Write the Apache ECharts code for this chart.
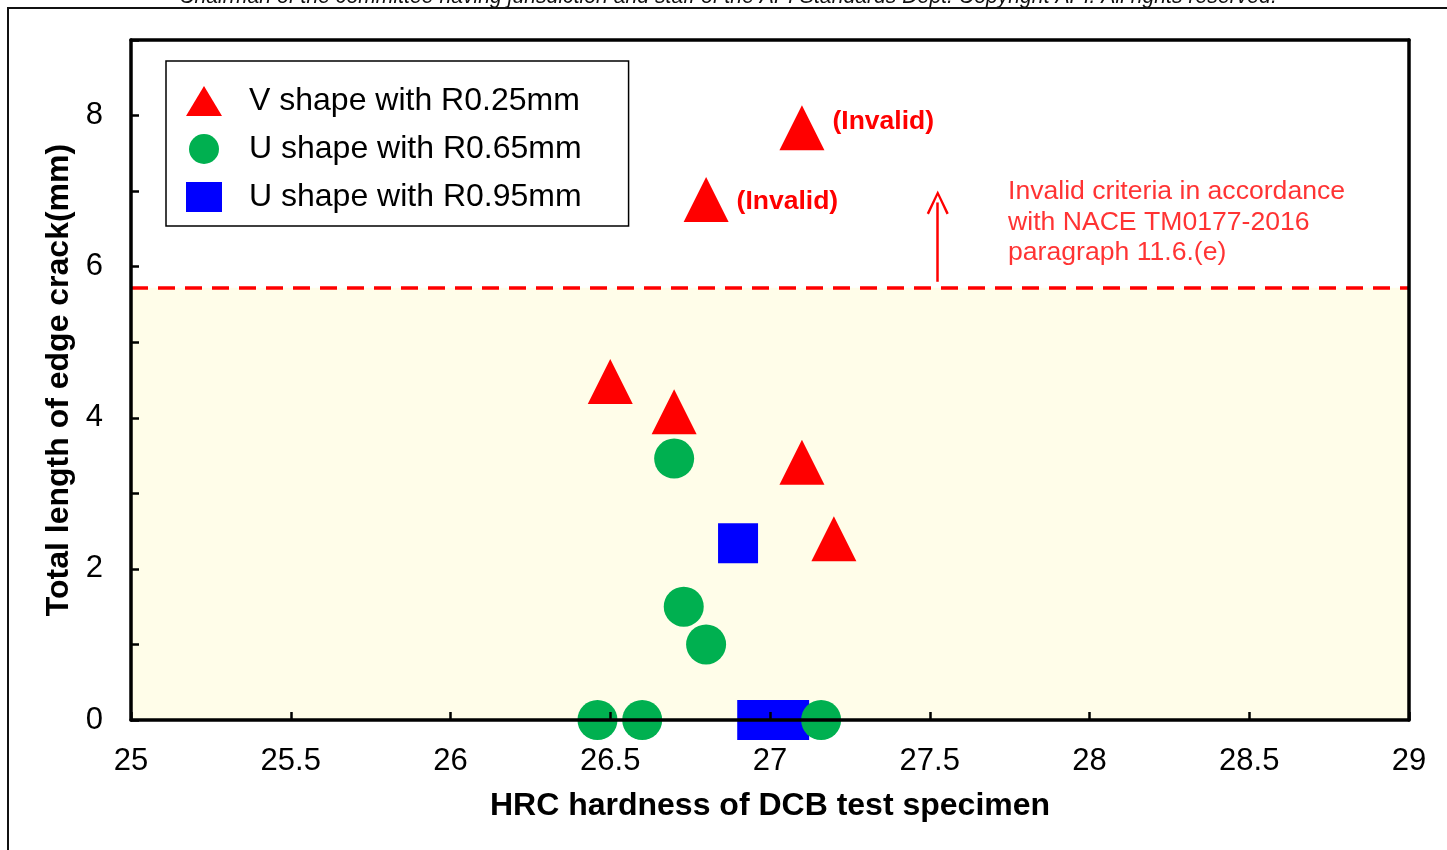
<!DOCTYPE html>
<html>
<head>
<meta charset="utf-8">
<title>Edge crack length vs HRC hardness</title>
<script src="https://cdn.jsdelivr.net/npm/echarts@6/dist/echarts.min.js"></script>
<style>
  html, body { margin: 0; padding: 0; background: #fff; }
  #chart { width: 1447px; height: 850px; }
</style>
</head>
<body>
<div id="chart"></div>
<script>
// HRC hardness (x) and total edge crack length in mm (y) per notch geometry
const seriesNames = ['V shape with R0.25mm', 'U shape with R0.65mm', 'U shape with R0.95mm'];

const vShapeHRC   = [27.1, 26.8, 26.5, 26.7, 27.1, 27.2];
const vShapeCrack = [7.84, 6.89, 4.48, 4.08, 3.41, 2.40];

const u065HRC   = [26.7, 26.73, 26.8, 26.46, 26.6, 27.16];
const u065Crack = [3.46, 1.50, 1.00, 0, 0, 0];

const u095HRC   = [26.9, 26.96, 27.0, 27.06];
const u095Crack = [2.34, 0, 0, 0];

// specimens rejected under the edge-crack criterion (index into vShape arrays)
const invalidIdx = [0, 1];
const invalidText = '(Invalid)';

// acceptance limit for edge cracks (mm) and the arrow pointing into the invalid zone
const crackLimit = 5.72;
const arrowHRC = 27.525;
const arrowFrom = 5.8;
const arrowTo = 6.85;

// note placed beside the arrow
const criteriaNote = ['Invalid criteria in accordance', 'with NACE TM0177-2016', 'paragraph 11.6.(e)'];
const criteriaAt = [27.745, 7.19];

// axis ranges and ticks
const xMin = 25, xMax = 29, xStep = 0.5;
const yMin = 0, yMax = 9, yStep = 1;

const footerText = 'Chairman of the committee having jurisdiction and staff of the API Standards Dept. Copyright API. All rights reserved.';

const FONT = '"Liberation Sans", Arial, sans-serif';
const RED = '#FF0000', GREEN = '#00B050', BLUE = '#0000FF';

function pairs(xs, ys) { return xs.map((x, i) => [x, ys[i]]); }

const vData = pairs(vShapeHRC, vShapeCrack).map((p, i) => {
  const item = { value: p };
  if (invalidIdx.includes(i)) {
    item.label = {
      show: true,
      position: 'right',
      distance: 8,
      offset: [0, i === 0 ? -6 : 2],
      formatter: invalidText,
      color: RED,
      fontFamily: FONT,
      fontWeight: 'bold',
      fontSize: 26.5
    };
  }
  return item;
});

// frame-only axis used for the top and right border of the plot
const frameAxis = (position, min, max) => ({
  type: 'value', position, min, max,
  axisLine: { show: true, onZero: false, lineStyle: { color: '#000', width: 3.5 } },
  axisTick: { show: false },
  axisLabel: { show: false },
  splitLine: { show: false },
  z: 10
});

const chart = echarts.init(document.getElementById('chart'), null, { renderer: 'canvas' });

chart.setOption({
  animation: false,
  backgroundColor: '#fff',
  textStyle: { fontFamily: FONT },
  graphic: [
    {
      type: 'rect',
      shape: { x: 8, y: 8, width: 1600, height: 1000 },
      style: { fill: 'none', stroke: '#111', lineWidth: 2 },
      z: 0
    },
    {
      type: 'text',
      x: 728, y: 8,
      style: {
        text: footerText,
        font: 'italic 21.2px ' + FONT,
        fill: '#111',
        textAlign: 'center',
        textVerticalAlign: 'bottom'
      }
    }
  ],
  grid: {
    left: 131, right: 38, top: 40, bottom: 130,
    show: false
  },
  legend: {
    orient: 'vertical',
    left: 166, top: 61,
    data: seriesNames,
    itemWidth: 36, itemHeight: 30,
    itemGap: 16,
    padding: [24, 47, 13, 20],
    borderColor: '#000', borderWidth: 1.5,
    backgroundColor: '#fff',
    textStyle: { fontSize: 32, color: '#000', fontFamily: FONT, padding: [0, 0, 0, 22] },
    selectedMode: false
  },
  xAxis: [
    {
      type: 'value',
      min: xMin, max: xMax, interval: xStep,
      name: 'HRC hardness of DCB test specimen',
      nameLocation: 'middle',
      nameGap: 70,
      nameTextStyle: { fontSize: 32, fontWeight: 'bold', color: '#000', fontFamily: FONT },
      axisLine: { show: true, lineStyle: { color: '#000', width: 3.5 } },
      axisTick: { show: true, inside: true, length: 8, lineStyle: { color: '#000', width: 2.5 } },
      axisLabel: { fontSize: 31, color: '#000', margin: 26, fontFamily: FONT },
      splitLine: { show: false },
      z: 10
    },
    frameAxis('top', xMin, xMax)
  ],
  yAxis: [
    {
      type: 'value',
      min: yMin, max: yMax, interval: yStep,
      name: 'Total length of edge crack(mm)',
      nameLocation: 'middle',
      nameGap: 54,
      nameRotate: 90,
      nameTextStyle: { fontSize: 32, fontWeight: 'bold', color: '#000', fontFamily: FONT },
      axisLine: { show: true, lineStyle: { color: '#000', width: 3.5 } },
      axisTick: { show: true, inside: true, length: 8, lineStyle: { color: '#000', width: 2.5 } },
      axisLabel: {
        fontSize: 31, color: '#000', margin: 28, fontFamily: FONT,
        padding: [11, 0, 0, 0],
        formatter: v => (v % 2 === 0 && v < yMax) ? String(v) : ''
      },
      splitLine: { show: false },
      z: 10
    },
    frameAxis('right', yMin, yMax)
  ],
  series: [
    {
      // shaded valid zone and the dashed limit line
      name: 'limit',
      type: 'scatter',
      data: [],
      z: 1,
      silent: true,
      markArea: {
        silent: true,
        itemStyle: { color: '#FFFDE9' },
        data: [[{ coord: [xMin, yMin] }, { coord: [xMax, crackLimit] }]]
      },
      markLine: {
        silent: true,
        symbol: ['none', 'none'],
        label: { show: false },
        lineStyle: { color: RED, width: 3.5, type: [17, 10] },
        data: [{ yAxis: crackLimit }]
      }
    },
    {
      name: 'arrow',
      type: 'scatter',
      data: [],
      z: 3,
      silent: true,
      markLine: {
        silent: true,
        symbol: ['none', 'path://M10,0 L20,20 L18,21 L10,4.5 L2,21 L0,20 Z'],
        symbolSize: [22, 24],
        label: { show: false },
        lineStyle: { color: RED, width: 2.5, type: 'solid' },
        data: [[{ coord: [arrowHRC, arrowFrom] }, { coord: [arrowHRC, arrowTo] }]]
      }
    },
    {
      name: 'note',
      type: 'scatter',
      data: [criteriaAt],
      symbolSize: 0,
      silent: true,
      z: 3,
      label: {
        show: true,
        position: [0, 0],
        align: 'left',
        verticalAlign: 'top',
        formatter: criteriaNote.join('\n'),
        color: RED,
        fontSize: 26.6,
        lineHeight: 30.5,
        fontFamily: FONT
      }
    },
    {
      name: seriesNames[2],
      type: 'scatter',
      symbol: 'rect',
      symbolSize: 40,
      itemStyle: { color: BLUE, opacity: 1 },
      z: 4,
      data: pairs(u095HRC, u095Crack)
    },
    {
      name: seriesNames[1],
      type: 'scatter',
      symbol: 'circle',
      symbolSize: 40,
      itemStyle: { color: GREEN, opacity: 1 },
      z: 5,
      data: pairs(u065HRC, u065Crack)
    },
    {
      name: seriesNames[0],
      type: 'scatter',
      symbol: 'triangle',
      symbolSize: 45,
      itemStyle: { color: RED, opacity: 1 },
      z: 6,
      data: vData
    }
  ]
});
</script>
</body>
</html>
